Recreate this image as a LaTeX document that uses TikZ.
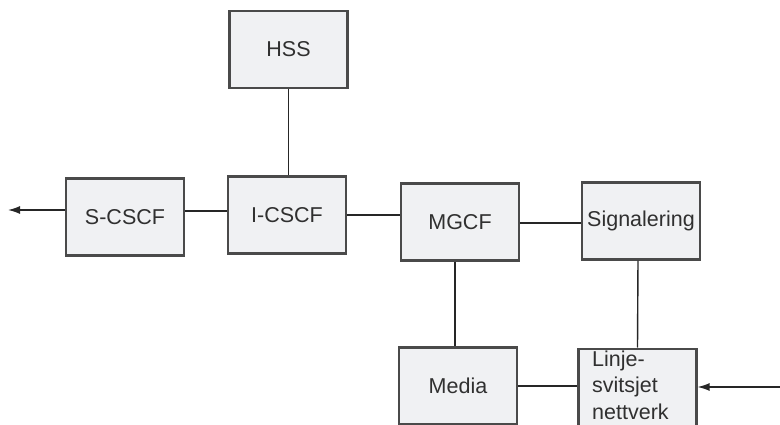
\documentclass[tikz,border=0pt]{standalone}
\usepackage{fontspec}
\setmainfont{Liberation Sans}
\usetikzlibrary{arrows.meta,calc}
\definecolor{boxfill}{HTML}{F0F1F3}
\definecolor{boxline}{HTML}{4A4A4A}
\definecolor{txt}{HTML}{303030}
\tikzset{
  blk/.style={draw=boxline, line width=2.2pt, fill=boxfill, minimum width=118pt, minimum height=77pt, inner sep=0pt, text=txt, font=\fontsize{21.5}{28}\selectfont},
  conn/.style={line width=1.4pt, draw=black!85},
  arr/.style={conn, -{Latex[length=12pt,width=8pt]}}
}
\begin{document}
\begin{tikzpicture}[x=1pt,y=-1pt]
\useasboundingbox (0,0) rectangle (780,425);
\node[blk] (HSS) at (288.5,49.5) {HSS};
\node[blk] (SCSCF) at (125,217) {S-CSCF};
\node[blk] (ICSCF) at (287,215) {I-CSCF};
\node[blk] (MGCF) at (460,222) {MGCF};
\node[blk] (SIG) at (641,221) {Signalering};
\node[blk] (MED) at (458,386) {Media};
\node[blk, anchor=north] (LSN) at (637.5,347.5) {};
\node[text=txt, font=\fontsize{21.5}{26.5}\selectfont, align=left, anchor=north west, inner sep=0pt] (LSNt) at (592,350.5) {Linje-\\svitsjet\\nettverk};
\coordinate (Lend) at (8,210);
\coordinate (Rstart) at (780,387);
\draw[conn] (HSS.south) -- (HSS.south |- ICSCF.north);
\draw[arr] (SCSCF.west |- Lend) -- (Lend);
\draw[conn] ($(SCSCF.east)+(0,-6)$) -- ($(ICSCF.west)+(0,-4)$);
\draw[conn] (ICSCF.east) -- (MGCF.west |- ICSCF.east);
\draw[conn] ($(MGCF.east)+(0,1)$) -- ($(SIG.west)+(0,2)$);
\draw[conn] ($(MGCF.south)+(-5,0)$) -- ($(MED.north)+(-3,0)$);
\draw[conn] ($(SIG.south)+(-3,0)$) -- (LSN.north);
\draw[conn] (MED.east) -- (LSN.west |- MED.east);
\draw[arr] (Rstart) -- (LSN.east |- Rstart);
\end{tikzpicture}
\end{document}
